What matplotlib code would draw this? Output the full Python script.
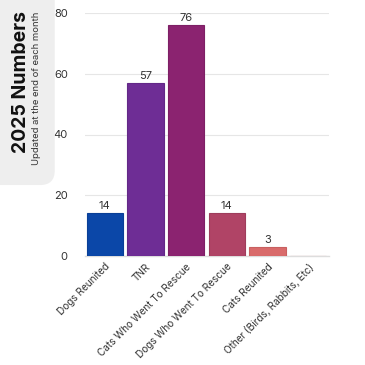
import matplotlib
matplotlib.use("Agg")
import matplotlib.pyplot as plt
from matplotlib.patches import FancyBboxPatch

categories = ["Dogs Reunited", "TNR", "Cats Who Went To Rescue",
              "Dogs Who Went To Rescue", "Cats Reunited", "Other (Birds, Rabbits, Etc)"]
values = [14, 57, 76, 14, 3, 0]
colors = ["#0b47a8", "#6e2d95", "#8b2370", "#b04466", "#d96b6b", "#e58080"]
edge_colors = ["#0a3f96", "#632887", "#7d1f65", "#9e3d5c", "#c86060", "#d07070"]
yticks = [0, 20, 40, 60, 80]

plt.rcParams['font.family'] = ['Inter', 'DejaVu Sans']

fig = plt.figure(figsize=(3.65, 3.65), dpi=100)
fig.patch.set_facecolor("white")

panel = FancyBboxPatch((-0.05, 0.493), 0.2, 0.6, boxstyle="round,pad=0,rounding_size=0.04",
                       transform=fig.transFigure, facecolor="#eeeeee", edgecolor="none", zorder=0)
fig.patches.append(panel)
fig.text(0.057, 0.774, "2025 Numbers", rotation=90, ha="center", va="center",
         fontsize=14, fontweight="bold", color="#111111")
fig.text(0.1, 0.758, "Updated at the end of each month", rotation=90, ha="center", va="center",
         fontsize=6.8, color="#333333")

ax = fig.add_axes([84.5 / 365, 109 / 365, 244 / 365, 243 / 365])
x = range(len(categories))
ax.bar(x, values, width=0.89, color=colors, edgecolor=edge_colors, linewidth=0.8, zorder=3)
for xi, v in zip(x, values):
    if v > 0:
        ax.text(xi, v + 0.7, str(v), ha="center", va="bottom", fontsize=8, color="#333333")

ax.set_xlim(-0.5, len(categories) - 0.5)
ax.set_ylim(0, 80)
ax.set_yticks(yticks)
ax.set_yticklabels([str(t) for t in yticks], fontsize=8, color="#333333")
ax.set_xticks(list(x))
ax.set_xticklabels(categories, rotation=45, ha="right", rotation_mode="anchor",
                   fontsize=7.2, color="#333333")
ax.tick_params(axis="both", length=0, pad=4)
ax.tick_params(axis="y", pad=12)
ax.grid(axis="y", color="#e6e6e6", linewidth=0.8, zorder=0)
for s in ["top", "right", "left"]:
    ax.spines[s].set_visible(False)
ax.spines["bottom"].set_color("#dddddd")
ax.spines["bottom"].set_linewidth(1.0)

fig.savefig("out.png", dpi=100)
